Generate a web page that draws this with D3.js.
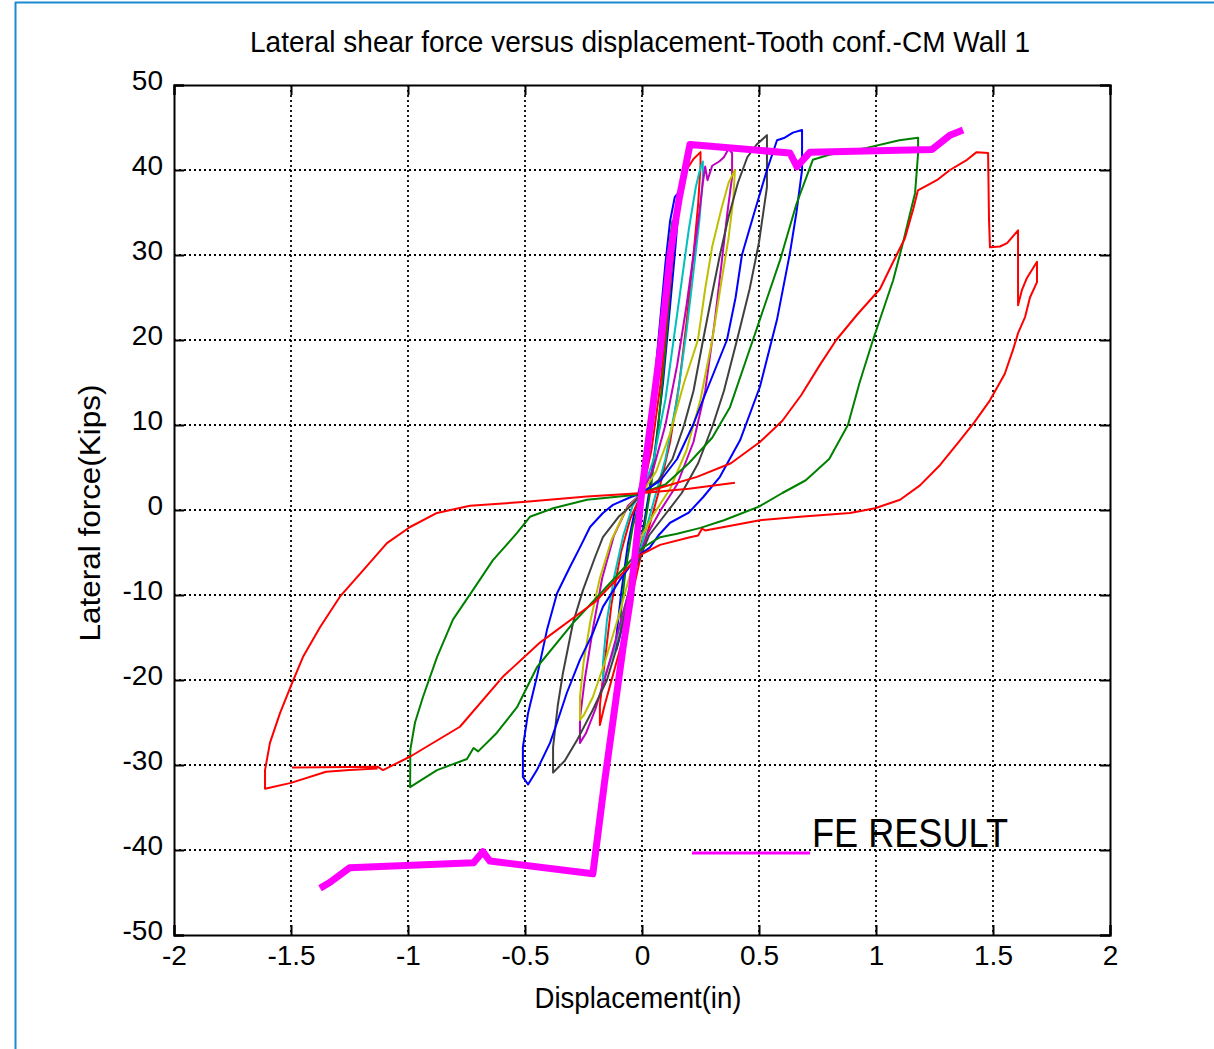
<!DOCTYPE html>
<html lang="en">
<head>
  <meta charset="UTF-8">
  <title>Lateral shear force versus displacement</title>
  <style>
    body { margin: 0; background: #fff; }
    svg { display: block; }
    text { font-family: "Liberation Sans", Arial, sans-serif; fill: #000; }
    .grid line { stroke: #000; stroke-width: 1.8; stroke-dasharray: 2,3; }
    .axis path, .axis line { stroke: #000; stroke-width: 2; }
    .axis text { font-size: 28px; }
    .cycle { fill: none; stroke-width: 2; stroke-linejoin: round; }
  </style>
</head>
<body>
  <script src="https://d3js.org/d3.v7.min.js"></script>
  <script>
    // tick values
    const xTicks = [-2, -1.5, -1, -0.5, 0, 0.5, 1, 1.5, 2];
    const yTicks = [-50, -40, -30, -20, -10, 0, 10, 20, 30, 40, 50];

    // test cycles, [displacement (in), force (kips)]
    const blueSmall = [[-0.02,1.5],[0.02,6],[0.05,14],[0.08,23],[0.1,29],[0.12,34],[0.14,36.8],[0.155,37.3],[0.155,35],[0.14,30],[0.12,24],[0.09,15],[0.06,8],[0.03,2],[0,-3],[-0.03,-7],[-0.07,-12],[-0.1,-15.5],[-0.11,-16.5],[-0.11,-15],[-0.09,-10],[-0.06,-4],[-0.03,0],[0,2]];
    const greenSmall = [[0,2],[0.03,7],[0.06,15],[0.09,24],[0.115,31],[0.13,34],[0.135,32],[0.12,26],[0.1,19],[0.07,10],[0.04,3],[0.01,-2],[-0.03,-6],[-0.06,-10],[-0.09,-14],[-0.09,-12],[-0.07,-7],[-0.04,-2],[0,2]];
    const redSmall = [[0,2],[0.04,7],[0.08,15],[0.11,24],[0.14,32],[0.16,37.6],[0.19,40],[0.22,41.3],[0.25,42.1],[0.25,40.5],[0.24,36],[0.22,30],[0.19,22],[0.16,15],[0.12,8],[0.07,2],[0.03,-2],[-0.01,-6],[-0.05,-11],[-0.09,-16],[-0.13,-20],[-0.16,-23],[-0.18,-25.3],[-0.18,-23],[-0.16,-18],[-0.13,-11],[-0.09,-5],[-0.05,-1],[0,2]];
    const cyanCycle = [[0,2],[0.05,6],[0.1,13],[0.14,21],[0.17,27],[0.2,33],[0.23,38],[0.25,40.3],[0.26,41],[0.26,39],[0.245,34],[0.22,28],[0.19,21],[0.15,13],[0.1,6],[0.05,1],[0.01,-3],[-0.03,-7],[-0.08,-12],[-0.12,-16.5],[-0.167,-20.2],[-0.167,-18],[-0.15,-13],[-0.12,-8],[-0.08,-3],[-0.04,0.5],[0,2]];
    const magentaCycle = [[0,2],[0.05,5],[0.1,10],[0.15,17],[0.19,24],[0.22,30],[0.245,35],[0.26,38.5],[0.27,40.4],[0.28,38.8],[0.3,40.5],[0.33,41],[0.35,41.5],[0.37,42.5],[0.385,42],[0.385,39.2],[0.365,35],[0.34,29],[0.31,22],[0.27,14],[0.22,8],[0.15,3],[0.08,0],[0.02,-3],[-0.03,-7],[-0.09,-13],[-0.15,-19],[-0.2,-23.5],[-0.24,-26.3],[-0.265,-27.4],[-0.265,-24.5],[-0.245,-20],[-0.21,-14],[-0.17,-8],[-0.12,-3],[-0.06,0.5],[0,2]];
    const yellowCycle = [[0,2],[0.06,4.5],[0.12,9],[0.18,15],[0.239,20],[0.27,26],[0.3,31],[0.34,35.5],[0.37,38.5],[0.397,40],[0.39,36.5],[0.37,32],[0.34,27],[0.3,20],[0.25,13],[0.19,7],[0.12,2.5],[0.05,-0.5],[0,-3],[-0.05,-7.5],[-0.1,-12.5],[-0.16,-18],[-0.21,-22],[-0.25,-24.2],[-0.265,-24.7],[-0.265,-22],[-0.25,-18],[-0.22,-13],[-0.18,-8],[-0.13,-3.5],[-0.07,0],[0,2]];
    const grayCycle = [[0,2],[0.07,3.5],[0.13,6],[0.18,10],[0.22,14],[0.261,20],[0.3,25.5],[0.333,30],[0.37,34.5],[0.41,38.5],[0.45,41.5],[0.49,43],[0.534,44.1],[0.534,38],[0.5,31.5],[0.46,26],[0.406,20],[0.35,14],[0.303,10],[0.24,5.5],[0.17,2],[0.1,-0.5],[0.03,-3],[-0.03,-7],[-0.07,-12],[-0.107,-16.1],[-0.15,-20],[-0.21,-23.5],[-0.278,-27.1],[-0.33,-29.5],[-0.38,-30.9],[-0.38,-27.9],[-0.36,-23],[-0.338,-19.2],[-0.295,-13.3],[-0.252,-9.4],[-0.2,-5.5],[-0.167,-3.2],[-0.1,-0.8],[-0.051,0.4],[0,2]];
    const blueCycle = [[0,2],[0.08,3.5],[0.15,6],[0.218,10],[0.29,15],[0.363,20],[0.4,25],[0.427,30],[0.48,35],[0.534,40],[0.577,43.5],[0.61,43.8],[0.645,44.4],[0.684,44.7],[0.684,40],[0.66,35],[0.632,30.2],[0.577,22.4],[0.504,14.5],[0.419,8.2],[0.333,3.9],[0.261,1.5],[0.2,-0.3],[0.12,-1.5],[0.07,-3],[0.034,-4.4],[-0.021,-5.5],[-0.094,-8.2],[-0.167,-11.4],[-0.21,-14.5],[-0.265,-17.6],[-0.321,-21.5],[-0.363,-25],[-0.393,-27.4],[-0.449,-30.6],[-0.487,-32.3],[-0.509,-31.4],[-0.509,-27.9],[-0.487,-23.9],[-0.449,-19.6],[-0.406,-14.1],[-0.363,-9.8],[-0.308,-6.7],[-0.265,-4.4],[-0.222,-2],[-0.167,-0.35],[-0.124,0.6],[-0.05,1.5],[0,2]];
    const greenCycle = [[0,2],[0.1,3],[0.2,5.5],[0.3,8.5],[0.376,12.1],[0.474,20],[0.59,29.4],[0.66,36],[0.73,41.2],[0.8,41.8],[0.96,42.6],[1.1,43.5],[1.18,43.8],[1.18,42],[1.167,37.3],[1.115,31.4],[1.073,27],[0.987,20],[0.93,15],[0.88,10],[0.8,6],[0.7,3.5],[0.6,2],[0.5,0.4],[0.35,-1.2],[0.25,-2.1],[0.15,-2.8],[0.077,-3.2],[0,-4.5],[-0.1,-7.5],[-0.2,-10.5],[-0.295,-13.3],[-0.449,-18.5],[-0.534,-23.2],[-0.62,-26.2],[-0.7,-28.4],[-0.72,-28],[-0.748,-29.3],[-0.876,-30.6],[-0.991,-32.6],[-0.99,-28.2],[-0.97,-25],[-0.936,-22],[-0.876,-17.3],[-0.808,-12.9],[-0.722,-9.4],[-0.637,-5.9],[-0.534,-2.7],[-0.479,-0.8],[-0.38,0.2],[-0.235,1.2],[-0.021,1.8]];
    const redCycle = [[0,2],[0.1,2.8],[0.235,3.9],[0.38,5.5],[0.504,8],[0.6,10.5],[0.68,13.5],[0.761,17.1],[0.83,20],[0.92,23],[1.017,26],[1.07,29],[1.124,32],[1.16,35.5],[1.179,37.6],[1.26,38.8],[1.316,40],[1.389,41.2],[1.43,42.1],[1.479,42],[1.483,34.1],[1.487,30.9],[1.53,31],[1.56,31.4],[1.607,32.9],[1.607,24.1],[1.624,25.9],[1.645,27.3],[1.688,29.2],[1.688,26.8],[1.658,25],[1.637,22.7],[1.607,20.8],[1.585,18.8],[1.55,16],[1.487,12.9],[1.42,10.3],[1.359,8.2],[1.274,5.3],[1.188,2.9],[1.103,1.2],[0.996,0.2],[0.889,-0.35],[0.675,-0.8],[0.504,-1.2],[0.333,-2.1],[0.27,-2.4],[0.256,-2.2],[0.24,-3],[0.205,-3.2],[0.077,-4.1],[-0.009,-5.3],[-0.2,-10.8],[-0.436,-15.6],[-0.594,-19.6],[-0.778,-25.5],[-0.99,-29],[-1.107,-30.6],[-1.13,-30.2],[-1.496,-30.3]];
    const redReturn = [[-1.13,-30.4],[-1.25,-30.6],[-1.35,-30.8],[-1.5,-32.1],[-1.611,-32.8],[-1.611,-30.6],[-1.59,-27.4],[-1.547,-23.9],[-1.496,-20.4],[-1.449,-17.3],[-1.376,-13.8],[-1.291,-10.2],[-1.192,-7.1],[-1.09,-3.9],[-0.991,-2],[-0.876,-0.35],[-0.735,0.5],[-0.509,0.94],[-0.235,1.6],[0.004,2],[0.2,2.5],[0.397,3.2]];

    // finite element result
    const feResult = [[-1.376,-44.5],[-1.333,-43.8],[-1.25,-42.1],[-0.72,-41.5],[-0.68,-40.2],[-0.65,-41.3],[-0.21,-42.8],[-0.16,-32],[-0.08,-16],[-0.05,-10.6],[0,2.4],[0.077,18.7],[0.12,30],[0.16,36.8],[0.205,43],[0.632,42],[0.662,40.4],[0.718,42.1],[1.239,42.4],[1.316,44.1],[1.372,44.7]];

    // draw order follows the plotting order (b g r c m y k b g r)
    const cycles = [
      {pts: blueSmall, color: "#0000ff"},
      {pts: greenSmall, color: "#008000"},
      {pts: redSmall, color: "#ff0000"},
      {pts: cyanCycle, color: "#00bfbf"},
      {pts: magentaCycle, color: "#bf00bf"},
      {pts: yellowCycle, color: "#bfbf00"},
      {pts: grayCycle, color: "#404040"},
      {pts: blueCycle, color: "#0000ff"},
      {pts: greenCycle, color: "#008000"},
      {pts: redCycle, color: "#ff0000"},
      {pts: redReturn, color: "#ff0000"}
    ];

    const width = 1214, height = 1049;
    const svg = d3.select("body").append("svg")
      .attr("width", width)
      .attr("height", height);

    // blue frame of the figure
    svg.append("line").attr("x1", 15).attr("y1", 2.5).attr("x2", width).attr("y2", 2.5)
      .attr("stroke", "#1a8ad4").attr("stroke-width", 2);
    svg.append("line").attr("x1", 15.5).attr("y1", 2).attr("x2", 15.5).attr("y2", height)
      .attr("stroke", "#1a8ad4").attr("stroke-width", 2);

    const x = d3.scaleLinear().domain([-2, 2]).range([174, 1110]);
    const y = d3.scaleLinear().domain([-50, 50]).range([935, 85]);

    // dotted grid
    const grid = svg.append("g").attr("class", "grid");
    grid.selectAll(".gx").data(xTicks.slice(1, -1)).enter().append("line")
      .attr("x1", d => x(d)).attr("x2", d => x(d))
      .attr("y1", y(50)).attr("y2", y(-50));
    grid.selectAll(".gy").data(yTicks.slice(1, -1)).enter().append("line")
      .attr("x1", x(-2)).attr("x2", x(2))
      .attr("y1", d => y(d)).attr("y2", d => y(d));

    // experimental curves
    const line = d3.line().x(d => x(d[0])).y(d => y(d[1]));
    svg.append("g").selectAll("path")
      .data(cycles)
      .enter().append("path")
      .attr("class", "cycle")
      .attr("stroke", d => d.color)
      .attr("d", d => line(d.pts));

    // FE result (thick)
    svg.append("path")
      .datum(feResult)
      .attr("fill", "none")
      .attr("stroke", "#ff00ff")
      .attr("stroke-width", 7)
      .attr("stroke-linejoin", "round")
      .attr("d", line);

    // axes, ticks pointing inwards on all four sides
    const fmt = d => String(d);
    svg.append("g").attr("class", "axis")
      .attr("transform", `translate(0,${y(-50)})`)
      .call(d3.axisBottom(x).tickValues(xTicks).tickFormat(fmt).tickSize(-10).tickPadding(10));
    svg.append("g").attr("class", "axis")
      .attr("transform", `translate(${x(-2)},0)`)
      .call(d3.axisLeft(y).tickValues(yTicks).tickFormat(fmt).tickSize(-10).tickPadding(11))
      .selectAll("text").attr("dy", "4px");
    svg.append("g").attr("class", "axis")
      .attr("transform", `translate(0,${y(50)})`)
      .call(d3.axisTop(x).tickValues(xTicks).tickFormat("").tickSize(-10));
    svg.append("g").attr("class", "axis")
      .attr("transform", `translate(${x(2)},0)`)
      .call(d3.axisRight(y).tickValues(yTicks).tickFormat("").tickSize(-10));
    svg.selectAll(".axis .domain").attr("stroke-width", 2.2);

    // title and axis labels
    svg.append("text")
      .attr("x", 640).attr("y", 52)
      .attr("text-anchor", "middle")
      .attr("font-size", 29)
      .attr("textLength", 780).attr("lengthAdjust", "spacingAndGlyphs")
      .text("Lateral shear force versus displacement-Tooth conf.-CM Wall 1");
    svg.append("text")
      .attr("x", 638).attr("y", 1008)
      .attr("text-anchor", "middle")
      .attr("font-size", 29)
      .attr("textLength", 207).attr("lengthAdjust", "spacingAndGlyphs")
      .text("Displacement(in)");
    svg.append("text")
      .attr("transform", "translate(100,513) rotate(-90)")
      .attr("text-anchor", "middle")
      .attr("font-size", 29)
      .attr("textLength", 257).attr("lengthAdjust", "spacingAndGlyphs")
      .text("Lateral force(Kips)");

    // legend
    svg.append("line")
      .attr("x1", 692).attr("x2", 810).attr("y1", 853).attr("y2", 853)
      .attr("stroke", "#ff00ff").attr("stroke-width", 3);
    svg.append("text")
      .attr("x", 812).attr("y", 847)
      .attr("font-family", "'Open Sans', 'Noto Sans', sans-serif")
      .attr("font-size", 40)
      .attr("textLength", 196).attr("lengthAdjust", "spacingAndGlyphs")
      .text("FE RESULT");
  </script>
</body>
</html>
